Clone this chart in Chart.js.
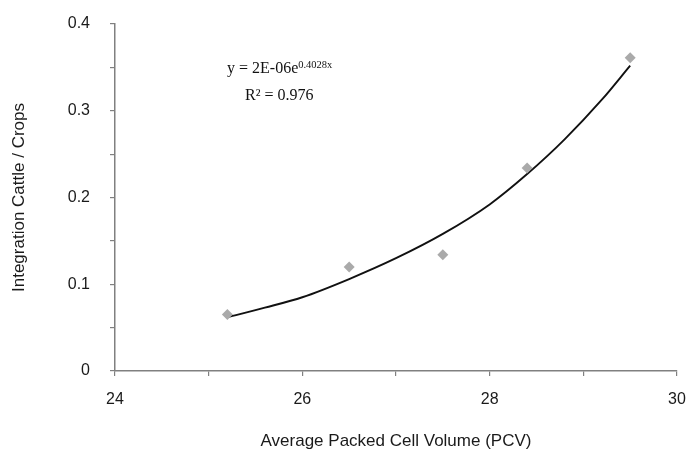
<!DOCTYPE html>
<html>
<head>
<meta charset="utf-8">
<script src="https://cdn.jsdelivr.net/npm/chart.js@4/dist/chart.umd.min.js"></script>
<style>
  html, body { margin: 0; padding: 0; background: #ffffff; }
  canvas { display: block; }
</style>
</head>
<body>
<canvas id="c" width="691" height="452"></canvas>
<script>
// Observed data points (PCV vs integration ratio)
const pcvValues = [25.2, 26.5, 27.5, 28.4, 29.5];
const ratioValues = [0.065, 0.120, 0.134, 0.234, 0.361];

// Trend line
const trendPcv = [25.2, 25.6, 26.0, 26.5, 27.0, 27.5, 28.0, 28.4, 28.8, 29.2, 29.5];
const trendRatio = [0.062, 0.073, 0.085, 0.106, 0.130, 0.158, 0.192, 0.227, 0.267, 0.313, 0.352];

// Axis ticks / labels
const xTickLabels = [24, 26, 28, 30];
const yTickLabels = [0, 0.1, 0.2, 0.3, 0.4];
const equationMain = 'y = 2E-06e';
const equationExp = '0.4028x';
const rSquaredText = 'R\u00B2 = 0.976';

const axisGray = '#808080';

const equationPlugin = {
  id: 'equationText',
  afterDraw(chart) {
    const ctx = chart.ctx;
    const a = chart.chartArea;
    ctx.save();
    ctx.fillStyle = '#111111';
    ctx.textBaseline = 'alphabetic';
    ctx.textAlign = 'left';
    ctx.font = '16px "Liberation Serif", "Times New Roman", serif';
    const x0 = a.left + 112;
    const y0 = a.top + 49;
    ctx.fillText(equationMain, x0, y0);
    const w = ctx.measureText(equationMain).width;
    ctx.font = '10.5px "Liberation Serif", "Times New Roman", serif';
    ctx.fillText(equationExp, x0 + w, y0 - 5);
    ctx.font = '16px "Liberation Serif", "Times New Roman", serif';
    ctx.fillText(rSquaredText, a.left + 130, a.top + 76);
    ctx.restore();
  }
};

function zeroPad(scale) {
  scale.paddingTop = 0;
  scale.paddingBottom = 0;
  scale.paddingLeft = 0;
  scale.paddingRight = 0;
}

new Chart(document.getElementById('c'), {
  type: 'scatter',
  data: {
    datasets: [
      {
        label: 'Trend',
        type: 'line',
        data: trendPcv.map((x, i) => ({ x: x, y: trendRatio[i] })),
        borderColor: '#111111',
        borderWidth: 1.9,
        pointRadius: 0,
        cubicInterpolationMode: 'monotone',
        fill: false,
        order: 2
      },
      {
        label: 'Observed',
        data: pcvValues.map((x, i) => ({ x: x, y: ratioValues[i] })),
        pointStyle: 'rectRot',
        pointRadius: 5.5,
        backgroundColor: '#aaaaaa',
        borderColor: '#aaaaaa',
        borderWidth: 0,
        order: 1
      }
    ]
  },
  options: {
    responsive: false,
    animation: false,
    events: [],
    layout: { padding: { left: 0, right: 14, top: 24, bottom: 0 } },
    plugins: {
      legend: { display: false },
      tooltip: { enabled: false }
    },
    scales: {
      x: {
        type: 'linear',
        min: 24,
        max: 30,
        afterFit(scale) { scale.height = 81; zeroPad(scale); },
        border: { display: true, color: axisGray, width: 1.5 },
        grid: { drawOnChartArea: false, drawTicks: true, tickLength: 5, color: axisGray, lineWidth: 1.2 },
        ticks: {
          stepSize: 1,
          padding: 14,
          color: '#1a1a1a',
          font: { family: '"Liberation Sans", Arial, sans-serif', size: 16 },
          maxRotation: 0,
          autoSkip: false,
          callback: (v) => xTickLabels.includes(Math.round(v)) && Math.abs(v - Math.round(v)) < 1e-6 ? String(Math.round(v)) : ''
        },
        title: {
          display: true,
          text: 'Average Packed Cell Volume (PCV)',
          color: '#1a1a1a',
          font: { family: '"Liberation Sans", Arial, sans-serif', size: 17 },
          padding: { top: 0, bottom: 0 }
        }
      },
      y: {
        type: 'linear',
        min: 0,
        max: 0.4,
        afterFit(scale) { scale.width = 115; zeroPad(scale); },
        border: { display: true, color: axisGray, width: 1.5 },
        grid: { drawOnChartArea: false, drawTicks: true, tickLength: 5, color: axisGray, lineWidth: 1.2 },
        ticks: {
          stepSize: 0.05,
          padding: 20,
          color: '#1a1a1a',
          font: { family: '"Liberation Sans", Arial, sans-serif', size: 16 },
          autoSkip: false,
          callback: (v) => {
            const k = Math.round(v * 100);
            if (k % 10 !== 0) return '';
            const val = k / 100;
            return yTickLabels.includes(val) ? String(val) : '';
          }
        },
        title: {
          display: true,
          text: 'Integration Cattle / Crops',
          color: '#1a1a1a',
          font: { family: '"Liberation Sans", Arial, sans-serif', size: 17 },
          padding: { top: 9, bottom: 0 }
        }
      }
    }
  },
  plugins: [equationPlugin]
});
</script>
</body>
</html>
